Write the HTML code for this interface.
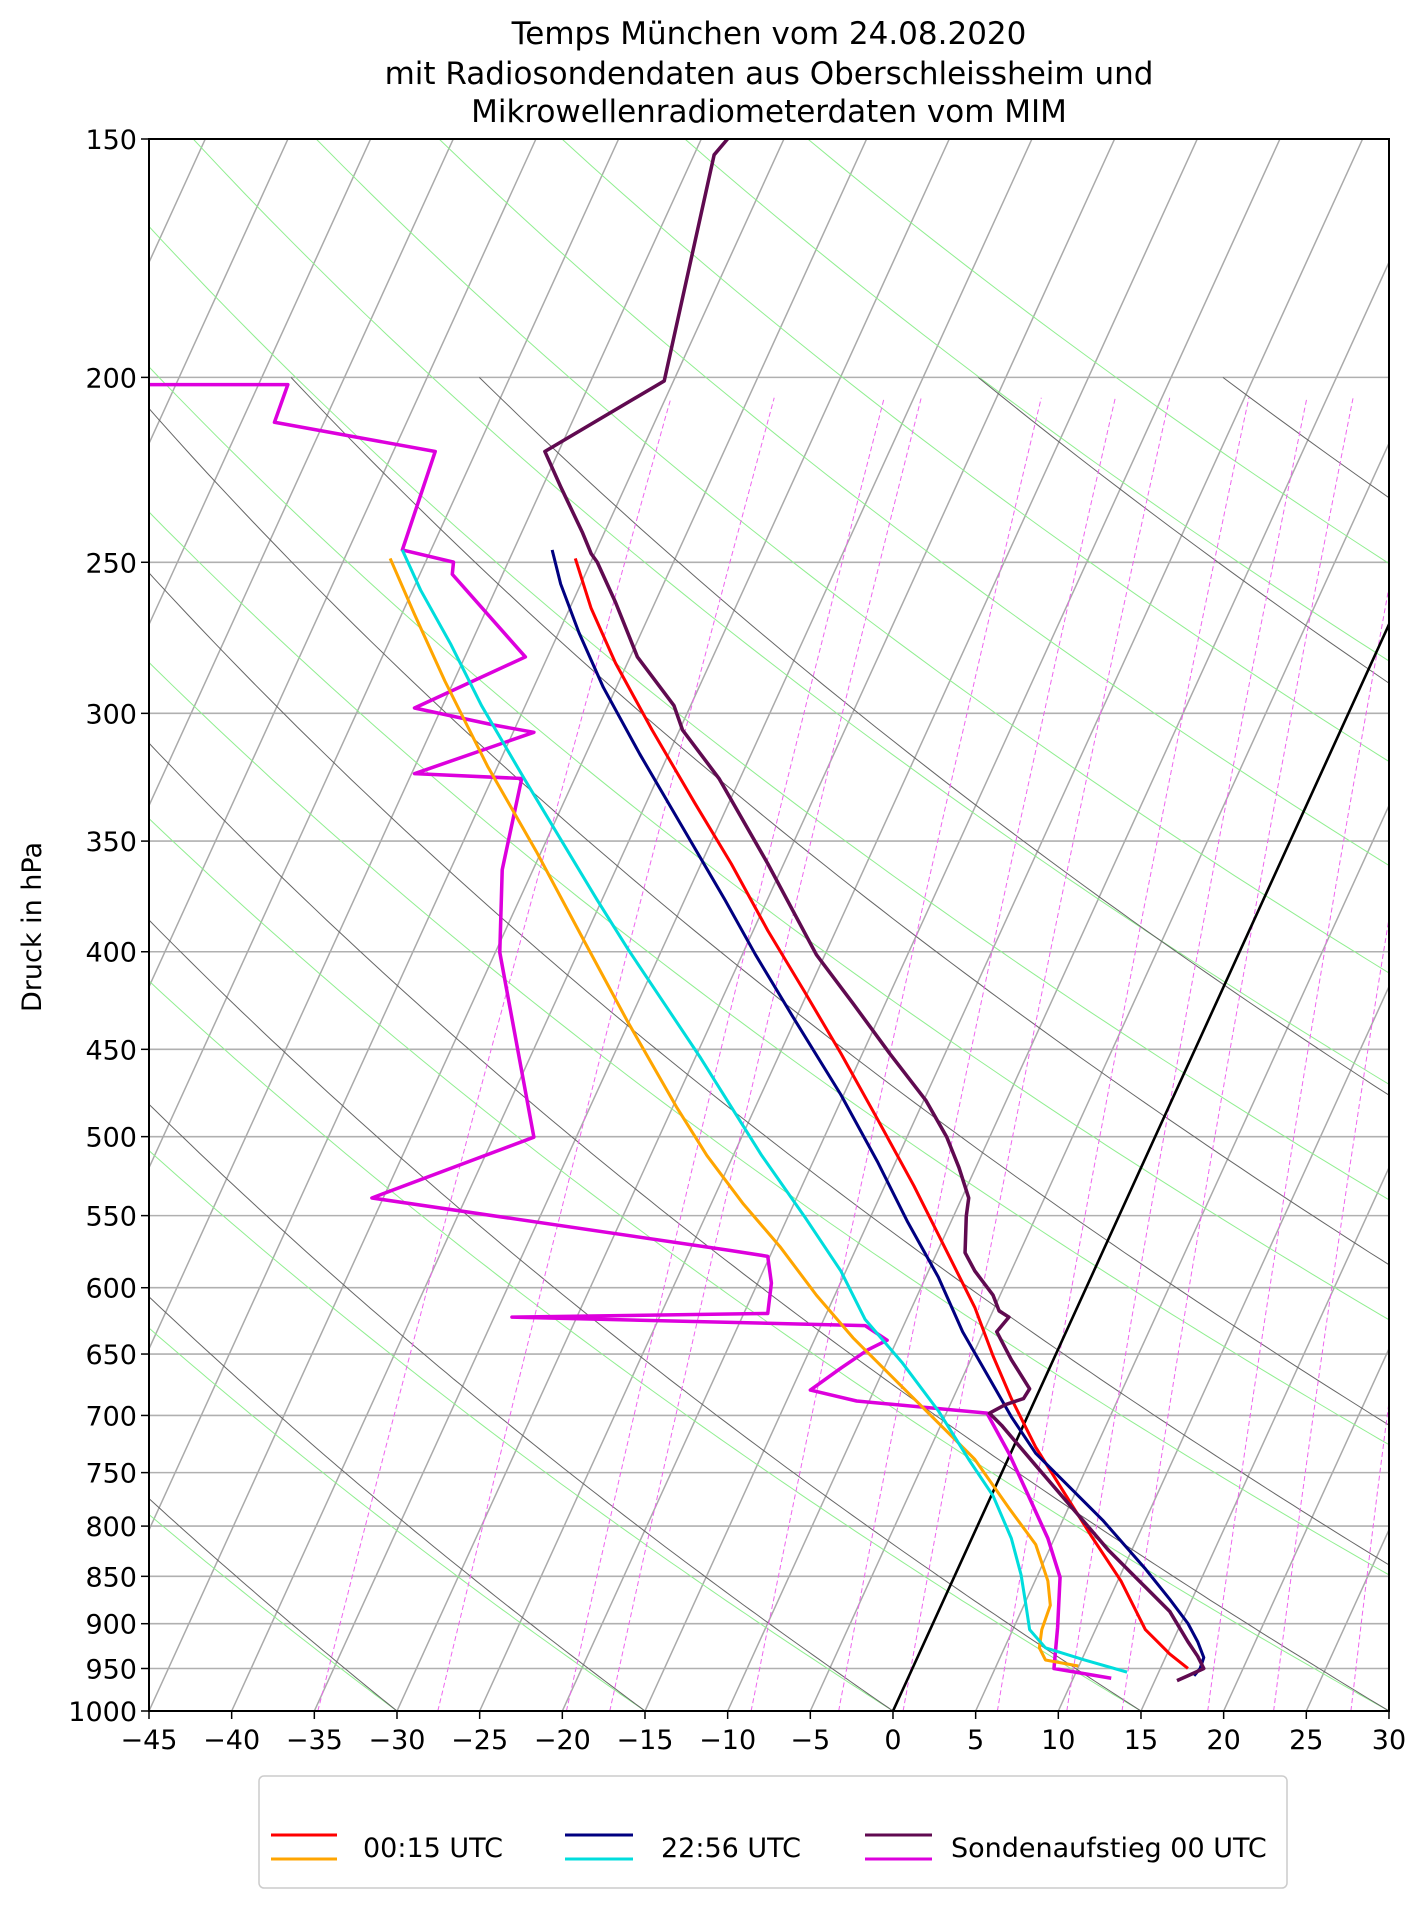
<!DOCTYPE html>
<html><head><meta charset="utf-8">
<style>
html,body{margin:0;padding:0;background:#fff;}
svg text{font-family:"DejaVu Sans","Liberation Sans",sans-serif;fill:#000;}
</style></head>
<body>
<svg id="s" width="1427" height="1907" viewBox="0 0 1427 1907" xmlns="http://www.w3.org/2000/svg">
<defs><clipPath id="cp"><rect x="149" y="139" width="1240" height="1572"/></clipPath></defs>
<rect width="1427" height="1907" fill="#fff"/>
<g id="grid" clip-path="url(#cp)"></g>
<g clip-path="url(#cp)">
<g id="data" fill="none" stroke-width="3" stroke-linejoin="round" transform="matrix(1.218,0,0,1.2158,0.4,0.4)">
<polyline stroke="#dd00dd" points="122,316 236,316 225,347 357,371 330,452 372,462 371,472 431,540 340,582 405,596 438,602 340,636 428,640 412,715 410,783 438,935 305,985 598,1028 630,1033 633,1055 630,1080 420,1083 710,1090 728,1102 712,1110 690,1125 665,1143 703,1152 810,1162 828,1195 845,1232 860,1265 870,1297 868,1338 865,1372 912,1380" stroke-width="2.9"/>
<polyline stroke="#ffa500" points="320,459 340,505 365,560 400,630 440,700 480,775 515,840 555,910 580,950 610,990 640,1025 670,1065 700,1100 740,1140 775,1175 800,1200 828,1240 850,1270 860,1300 862,1320 855,1340 853,1355 858,1365 885,1370" stroke-width="2.5"/>
<polyline stroke="#00dddd" points="330,452 345,485 370,530 395,580 430,640 460,690 490,740 515,780 545,825 575,870 600,910 625,950 660,1000 690,1045 710,1085 740,1120 770,1160 795,1200 815,1230 830,1265 838,1295 842,1320 845,1340 858,1355 890,1365 925,1375" stroke-width="2.5"/>
<polyline stroke="#ff0000" points="472,459 485,500 505,545 535,600 570,660 600,710 630,765 660,815 690,866 720,920 750,975 775,1025 800,1075 815,1115 830,1150 850,1190 875,1230 895,1262 920,1300 930,1320 940,1340 950,1350 960,1360 975,1372" stroke-width="2.5"/>
<polyline stroke="#000080" points="453,452 460,480 475,520 495,565 525,620 560,680 595,740 620,785 650,835 690,900 720,955 745,1005 770,1050 790,1095 810,1130 830,1165 850,1195 875,1220 905,1250 940,1290 960,1315 975,1335 983,1350 988,1363 985,1372 980,1378" stroke-width="2.5"/>
<polyline stroke="#600a50" points="597,114 586,127 545,313 447,371 460,400 478,438 485,455 490,462 505,495 523,540 553,580 560,600 590,640 630,710 670,785 700,825 730,866 760,905 777,935 787,960 795,985 793,1000 792,1030 800,1045 815,1065 820,1078 828,1083 818,1095 830,1118 845,1142 840,1150 825,1155 812,1162 822,1172 850,1205 880,1240 910,1275 940,1305 960,1325 975,1350 983,1362 988,1372 975,1378 966,1382" stroke-width="2.9"/>
</g></g>
<g id="axes"></g>
<text x="769" y="44" font-size="31" text-anchor="middle">Temps München vom 24.08.2020</text>
<text x="769" y="84" font-size="31" text-anchor="middle">mit Radiosondendaten aus Oberschleissheim und</text>
<text x="769" y="122" font-size="31" text-anchor="middle">Mikrowellenradiometerdaten vom MIM</text>
<text x="769" y="1796" font-size="27" text-anchor="middle">Temperatur in <tspan font-size="19" dy="-10">∘</tspan><tspan dy="10">C</tspan></text>
<text transform="translate(41,927) rotate(-90)" font-size="27" text-anchor="middle">Druck in hPa</text>
<rect x="259" y="1776" width="1028" height="112" rx="5" fill="#fff" stroke="#cccccc" stroke-width="1.5"/>
<line x1="271" y1="1835" x2="337" y2="1835" stroke="#ff0000" stroke-width="3"/>
<line x1="271" y1="1859" x2="337" y2="1859" stroke="#ffa500" stroke-width="3"/>
<text x="363" y="1857" font-size="27">00:15 UTC</text>
<line x1="565" y1="1835" x2="633" y2="1835" stroke="#000080" stroke-width="3"/>
<line x1="565" y1="1859" x2="633" y2="1859" stroke="#00dddd" stroke-width="3"/>
<text x="661" y="1857" font-size="27">22:56 UTC</text>
<line x1="865" y1="1835" x2="932" y2="1835" stroke="#600a50" stroke-width="3"/>
<line x1="865" y1="1859" x2="932" y2="1859" stroke="#dd00dd" stroke-width="3"/>
<text x="951" y="1857" font-size="27">Sondenaufstieg 00 UTC</text>
</svg>
<script>
(function(){
var NS="http://www.w3.org/2000/svg";
var L=149,R=1389,T=139,B=1711,H=B-T,LN=Math.log(1000/150),SK=0.4565,PX=16.533;
function Y(p){return T+H*Math.log(p/150)/LN;}
function X(t,y){return L+(t+45)*PX+(B-y)*SK;}
var g=document.getElementById('grid'),ax=document.getElementById('axes');
function el(par,tag,a){var e=document.createElementNS(NS,tag);for(var k in a)e.setAttribute(k,a[k]);par.appendChild(e);return e;}
function path(par,pts,a){var d='';for(var i=0;i<pts.length;i++)d+=(i?'L':'M')+pts[i][0].toFixed(1)+','+pts[i][1].toFixed(1);a.d=d;a.fill='none';el(par,'path',a);}
var P=[150,200,250,300,350,400,450,500,550,600,650,700,750,800,850,900,950,1000];
P.forEach(function(p){var y=Y(p);el(g,'line',{x1:L,x2:R,y1:y,y2:y,stroke:'#b0b0b0','stroke-width':1.6});});
for(var t=-150;t<=30;t+=5){el(g,'line',{x1:X(t,B),y1:B,x2:X(t,T),y2:T,stroke:'#aaaaaa','stroke-width':1.5});}
function adi(th,k,p0,p1,st,w){var pts=[];for(var p=p0;p>=p1-0.01;p-=5){var tt=(th+273.15)*Math.pow(p/1000,k)-273.15;var y=Y(p);pts.push([X(tt,y),y]);}path(g,pts,{stroke:st,'stroke-width':w});}
for(var m=-30;m<=180;m+=15)adi(m,0.37,1000,150,'#90ee90',1);
[-30,-15,0,15,30,45,60,78,98,151,177].forEach(function(th){adi(th,0.35,1000,200,'#666',1);});
[0.0002,0.0004,0.0008,0.001,0.002,0.003,0.004,0.006,0.008,0.01,0.014,0.018,0.024].forEach(function(w){
var pts=[],ps=[];for(var p=1000;p>205;p-=10)ps.push(p);ps.push(205);
ps.forEach(function(p){var e=w*p/(0.622+w);var a=Math.log(e/6.112);var td=243.5*a/(17.67-a);var y=Y(p);pts.push([X(td,y),y]);});
path(g,pts,{stroke:'#ee66ee','stroke-width':1,'stroke-dasharray':'5,3'});});
el(g,'line',{x1:X(0,B),y1:B,x2:X(0,T),y2:T,stroke:'#000','stroke-width':2.6});
el(ax,'rect',{x:L,y:T,width:R-L,height:H,fill:'none',stroke:'#000','stroke-width':2});
P.forEach(function(p){var y=Y(p);el(ax,'line',{x1:L-8,x2:L,y1:y,y2:y,stroke:'#000','stroke-width':1.5});
var tx=el(ax,'text',{x:L-12,y:y+10,'font-size':27,'text-anchor':'end'});tx.textContent=p;});
for(var t2=-45;t2<=30;t2+=5){var x=X(t2,B);el(ax,'line',{x1:x,x2:x,y1:B,y2:B+8,stroke:'#000','stroke-width':1.5});
var tx2=el(ax,'text',{x:x,y:B+38,'font-size':27,'text-anchor':'middle'});tx2.textContent=(t2<0?'\u2212'+(-t2):t2);}
})();
</script>
</body></html>
